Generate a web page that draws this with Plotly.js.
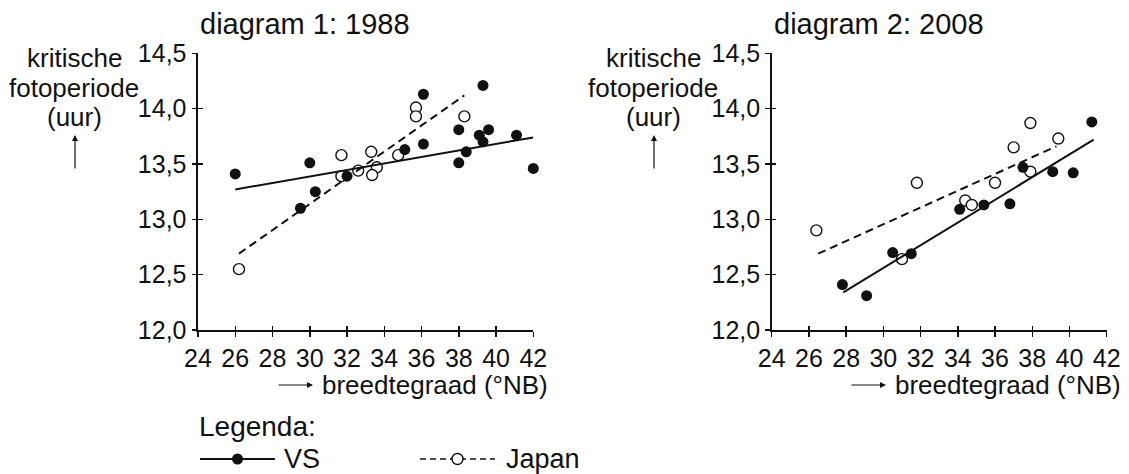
<!DOCTYPE html>
<html>
<head>
<meta charset="utf-8">
<script src="https://cdn.plot.ly/plotly-3.0.1.min.js"></script>
<style>html,body{margin:0;padding:0;background:#fff;}#chart{width:1129px;height:474px;}</style>
</head>
<body>
<div id="chart"></div>
<script>
// ---- data ----
const xTickVals = [24, 26, 28, 30, 32, 34, 36, 38, 40, 42];
const yTickVals = [12.0, 12.5, 13.0, 13.5, 14.0, 14.5];
const yTickText = ["12,0", "12,5", "13,0", "13,5", "14,0", "14,5"];

const vs1988X = [26.0, 29.5, 30.0, 30.3, 32.0, 35.1, 36.1, 36.1, 38.0, 38.0, 38.4, 39.1, 39.3, 39.3, 39.6, 41.1, 42.0];
const vs1988Y = [13.41, 13.10, 13.51, 13.25, 13.39, 13.63, 13.68, 14.13, 13.81, 13.51, 13.61, 13.76, 14.21, 13.70, 13.81, 13.76, 13.46];
const jp1988X = [26.2, 31.7, 31.7, 32.6, 33.3, 33.6, 33.35, 34.75, 35.7, 35.7, 38.3];
const jp1988Y = [12.55, 13.58, 13.39, 13.44, 13.61, 13.47, 13.40, 13.58, 14.01, 13.93, 13.93];
const vs1988LineX = [26.0, 42.0];
const vs1988LineY = [13.27, 13.74];
const jp1988LineX = [26.2, 38.3];
const jp1988LineY = [12.69, 14.12];

const vs2008X = [27.8, 29.1, 30.5, 31.5, 34.1, 35.4, 36.8, 37.5, 39.1, 40.2, 41.2];
const vs2008Y = [12.41, 12.31, 12.70, 12.69, 13.09, 13.13, 13.14, 13.47, 13.43, 13.42, 13.88];
const jp2008X = [26.4, 31.0, 31.8, 34.4, 34.75, 36.0, 37.0, 37.9, 37.9, 39.4];
const jp2008Y = [12.90, 12.64, 13.33, 13.17, 13.13, 13.33, 13.65, 13.87, 13.43, 13.73];
const vs2008LineX = [27.85, 41.3];
const vs2008LineY = [12.34, 13.72];
const jp2008LineX = [26.5, 39.3];
const jp2008LineY = [12.69, 13.66];

const seriesNames = ["VS", "Japan"];
const diagramTitles = ["diagram 1: 1988", "diagram 2: 2008"];
const yTitleLines = ["kritische", "fotoperiode", "(uur)"];
const xTitle = "breedtegraad (°NB)";
const legendTitle = "Legenda:";

// ---- styling / layout ----
const W = 1129, H = 474;
const FONT = "Liberation Sans, Arial, sans-serif";
const INK = "#111";
const px = p => p / W;
const py = p => 1 - p / H;

const markerSize = 11;
const solid = {color: INK, width: 2};
const dashed = {color: INK, width: 2, dash: "8px,5px"};
const filledMarker = {symbol: "circle", size: markerSize, color: INK, line: {width: 0}};
const openMarker = {symbol: "circle", size: markerSize, color: "#fff", line: {color: INK, width: 1.4}};

function lineTrace(x, y, line, xa, ya) {
  return {type: "scatter", mode: "lines", x: x, y: y, line: line, xaxis: xa, yaxis: ya,
          showlegend: false, hoverinfo: "skip", cliponaxis: false};
}
function ptsTrace(x, y, marker, xa, ya) {
  return {type: "scatter", mode: "markers", x: x, y: y, marker: marker, xaxis: xa, yaxis: ya,
          showlegend: false, cliponaxis: false};
}

const data = [
  lineTrace(vs1988LineX, vs1988LineY, solid, "x3", "y3"),
  lineTrace(jp1988LineX, jp1988LineY, dashed, "x3", "y3"),
  ptsTrace(jp1988X, jp1988Y, openMarker, "x", "y"),
  ptsTrace(vs1988X, vs1988Y, filledMarker, "x", "y"),
  lineTrace(vs2008LineX, vs2008LineY, solid, "x4", "y4"),
  lineTrace(jp2008LineX, jp2008LineY, dashed, "x4", "y4"),
  ptsTrace(jp2008X, jp2008Y, openMarker, "x2", "y2"),
  ptsTrace(vs2008X, vs2008Y, filledMarker, "x2", "y2"),
  // legend-only key symbols (labels are drawn as annotations beside them)
  {type: "scatter", mode: "lines+markers", x: [null], y: [null], name: "\u00a0",
   line: {color: INK, width: 2}, marker: filledMarker, xaxis: "x", yaxis: "y"},
  {type: "scatter", mode: "lines+markers", x: [null], y: [null], name: "\u00a0",
   line: {color: INK, width: 1.5, dash: "6px,4px"}, marker: openMarker, xaxis: "x", yaxis: "y"}
];

const xDom1 = [px(198), px(533.3)];
const xDom2 = [px(771.7), px(1106.7)];
const yDom = [py(330), py(53.3)];

function mainX(dom, anchor) {
  return {domain: dom, anchor: anchor, range: [24, 42], tickvals: xTickVals, ticks: "outside",
          ticklen: 4.5, tickwidth: 1.5, tickcolor: INK, showline: true, linecolor: INK, linewidth: 2,
          showgrid: false, zeroline: false, fixedrange: true, automargin: false,
          tickfont: {family: FONT, size: 25, color: INK}};
}
function mainY(anchor) {
  return {domain: yDom, anchor: anchor, range: [12, 14.5], tickvals: yTickVals, ticktext: yTickText,
          ticks: "outside", ticklen: 4.5, tickwidth: 1.5, tickcolor: INK, showline: true, linecolor: INK,
          linewidth: 2, showgrid: false, zeroline: false, fixedrange: true, automargin: false,
          tickfont: {family: FONT, size: 25, color: INK}};
}
function overX(over, anchor) {
  return {overlaying: over, anchor: anchor, range: [24, 42], tickvals: xTickVals, ticks: "inside",
          ticklen: 4.5, tickwidth: 1.5, tickcolor: INK, showticklabels: false, showline: false,
          showgrid: false, zeroline: false, fixedrange: true};
}
function overY(over, anchor) {
  return {overlaying: over, anchor: anchor, range: [12, 14.5], tickvals: yTickVals, ticks: "inside",
          ticklen: 4.5, tickwidth: 1.5, tickcolor: INK, showticklabels: false, showline: false,
          showgrid: false, zeroline: false, fixedrange: true};
}

const annFont = s => ({family: FONT, size: s, color: INK});
const annotations = [];
[[198, diagramTitles[0]], [772, diagramTitles[1]]].forEach(([x, t]) => {
  annotations.push({xref: "paper", yref: "paper", x: px(x), y: py(24), xanchor: "left", yanchor: "middle",
                    text: t, showarrow: false, font: annFont(29)});
});
[74, 653].forEach(cx => {
  [58, 88, 117].forEach((cy, i) => {
    annotations.push({xref: "paper", yref: "paper", x: px(cx), y: py(cy), xanchor: "center", yanchor: "middle",
                      text: yTitleLines[i], showarrow: false, font: annFont(26)});
  });
  annotations.push({xref: "paper", yref: "paper", x: px(cx + 1), y: py(135), ax: 0, ay: 35, text: "",
                    showarrow: true, arrowhead: 2, arrowsize: 1, arrowwidth: 1.2, arrowcolor: INK});
});
[[320, 313], [893, 886]].forEach(([tx, hx]) => {
  annotations.push({xref: "paper", yref: "paper", x: px(tx), y: py(385), xanchor: "left", yanchor: "middle",
                    text: xTitle, showarrow: false, font: annFont(26)});
  annotations.push({xref: "paper", yref: "paper", x: px(hx), y: py(385), ax: -36, ay: 0, text: "",
                    showarrow: true, arrowhead: 2, arrowsize: 1, arrowwidth: 1.2, arrowcolor: INK});
});
annotations.push({xref: "paper", yref: "paper", x: px(197), y: py(426), xanchor: "left", yanchor: "middle",
                  text: legendTitle, showarrow: false, font: annFont(28)});
[[282, seriesNames[0]], [504, seriesNames[1]]].forEach(([x, t]) => {
  annotations.push({xref: "paper", yref: "paper", x: px(x), y: py(459), xanchor: "left", yanchor: "middle",
                    text: t, showarrow: false, font: annFont(27)});
});

const layout = {
  width: W, height: H,
  margin: {l: 0, r: 0, t: 0, b: 0, pad: 0, autoexpand: false},
  paper_bgcolor: "#fff", plot_bgcolor: "rgba(0,0,0,0)",
  font: {family: FONT, color: INK},
  xaxis: mainX(xDom1, "y"),
  yaxis: mainY("x"),
  xaxis2: mainX(xDom2, "y2"),
  yaxis2: mainY("x2"),
  xaxis3: overX("x", "y3"),
  yaxis3: overY("y", "x3"),
  xaxis4: overX("x2", "y4"),
  yaxis4: overY("y2", "x4"),
  showlegend: true,
  legend: {orientation: "h", x: px(195), y: py(459), xanchor: "left", yanchor: "middle",
           font: {family: FONT, size: 10, color: INK}, bgcolor: "rgba(0,0,0,0)",
           itemwidth: 75, entrywidth: 130, entrywidthmode: "pixels", tracegroupgap: 0},
  annotations: annotations
};

Plotly.newPlot("chart", data, layout, {staticPlot: true, displayModeBar: false});
</script>
</body>
</html>
